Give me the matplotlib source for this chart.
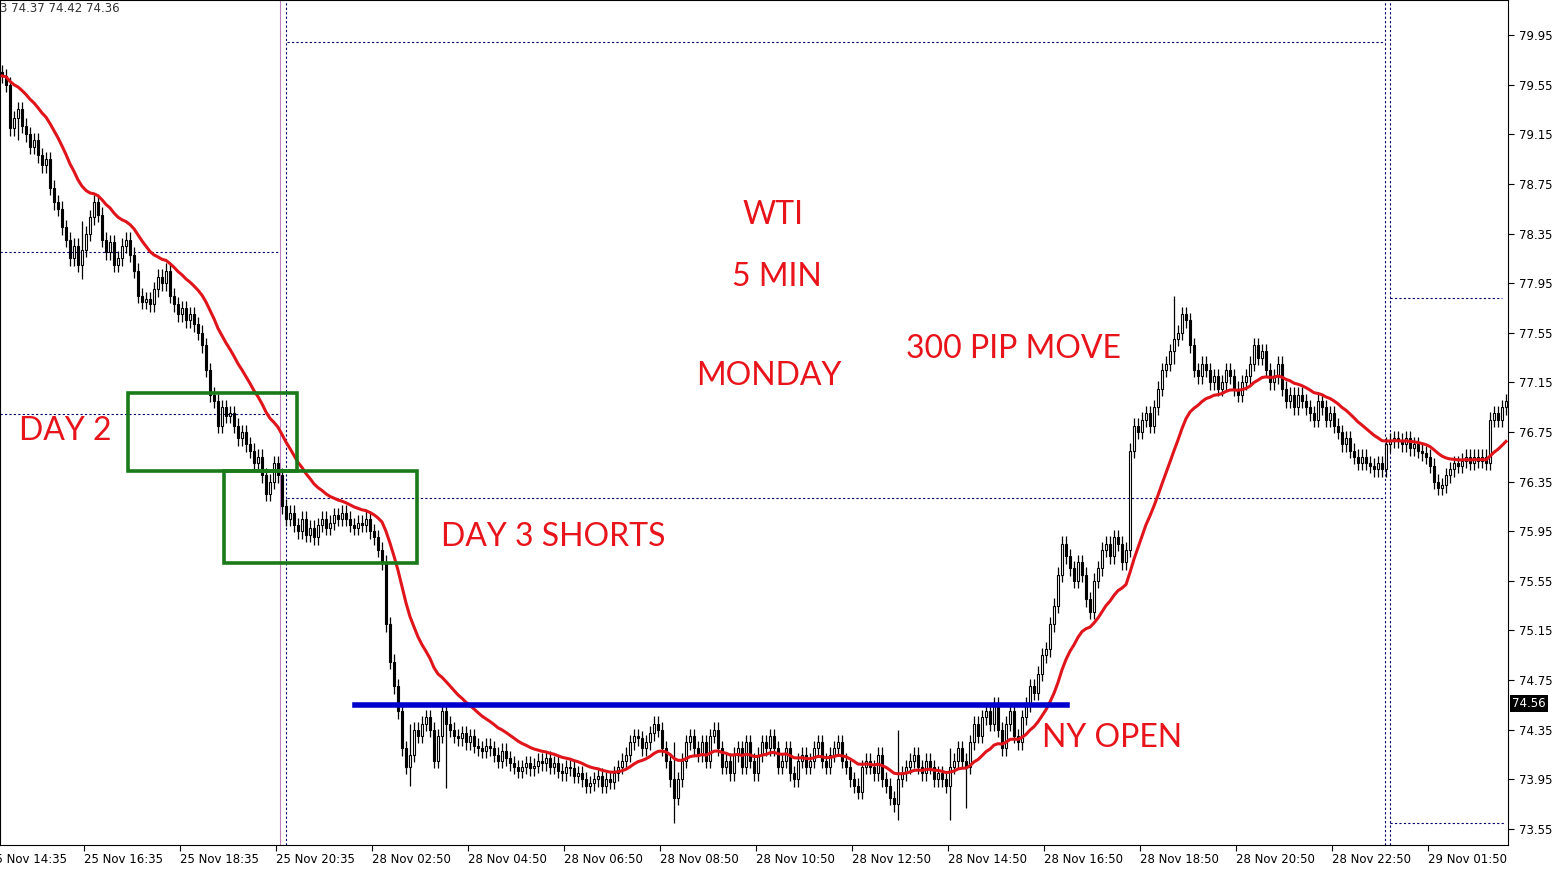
import matplotlib
matplotlib.use("Agg")
import matplotlib.pyplot as plt
import numpy as np
import pandas as pd
from matplotlib.patches import Rectangle

closes = [
79.62,79.55,79.20,79.28,79.35,79.22,79.15,79.05,79.10,78.98,78.90,78.95,78.72,78.60,78.55,78.40,78.30,78.15,78.25,78.10,78.22,78.35,78.48,78.60,
78.50,78.30,78.20,78.28,78.10,78.15,78.25,78.30,78.18,78.05,77.85,77.80,77.82,77.78,77.90,78.00,77.95,78.05,77.85,77.78,77.70,77.75,77.65,77.70,
77.62,77.55,77.45,77.25,77.05,77.00,76.80,76.95,76.88,76.90,76.80,76.70,76.75,76.65,76.60,76.50,76.55,76.40,76.25,76.35,76.50,76.40,76.15,76.05,
76.10,76.00,75.95,76.05,75.92,75.98,75.90,76.00,76.05,75.98,76.02,76.08,76.05,76.10,76.05,76.00,75.98,76.02,76.00,76.05,75.95,75.90,75.80,75.70,
75.20,74.90,74.70,74.50,74.20,74.05,74.15,74.35,74.30,74.40,74.45,74.35,74.10,74.30,74.50,74.40,74.35,74.30,74.28,74.32,74.25,74.30,74.22,74.20,
74.18,74.22,74.20,74.15,74.10,74.18,74.12,74.08,74.05,74.02,74.05,74.08,74.04,74.06,74.10,74.08,74.12,74.05,74.08,74.02,74.00,74.05,74.04,73.98,
74.00,73.95,73.90,73.92,73.95,73.98,73.90,73.95,73.93,74.00,74.05,74.10,74.15,74.25,74.30,74.28,74.20,74.25,74.32,74.40,74.35,74.20,74.10,73.95,
73.80,73.95,74.10,74.25,74.30,74.20,74.15,74.25,74.10,74.30,74.35,74.20,74.05,74.10,74.00,74.15,74.20,74.05,74.25,74.10,74.00,74.15,74.25,74.20,
74.30,74.20,74.05,74.10,74.20,74.00,73.95,74.10,74.15,74.05,74.10,74.20,74.25,74.10,74.05,74.15,74.20,74.25,74.10,74.05,73.95,73.90,73.85,74.05,
74.10,74.05,74.00,74.15,73.95,73.90,73.80,73.75,73.95,74.00,74.05,74.10,74.15,74.05,74.00,74.10,74.05,73.95,74.00,73.95,73.90,74.05,74.10,74.20,
74.10,74.05,74.25,74.40,74.30,74.45,74.50,74.40,74.55,74.35,74.20,74.40,74.50,74.30,74.25,74.45,74.55,74.70,74.65,74.80,74.95,75.00,75.20,75.35,
75.60,75.85,75.75,75.65,75.55,75.70,75.60,75.40,75.30,75.55,75.65,75.80,75.85,75.75,75.90,75.85,75.70,75.80,76.60,76.80,76.75,76.85,76.90,76.80,
76.95,77.10,77.25,77.30,77.40,77.50,77.55,77.70,77.65,77.45,77.25,77.20,77.30,77.25,77.15,77.20,77.10,77.15,77.25,77.20,77.10,77.05,77.15,77.20,
77.30,77.45,77.35,77.40,77.25,77.15,77.20,77.30,77.10,77.00,77.05,76.95,77.05,77.00,76.95,76.90,76.85,77.00,76.95,76.85,76.90,76.80,76.75,76.65,
76.70,76.60,76.55,76.50,76.55,76.50,76.48,76.45,76.50,76.45,76.65,76.68,76.70,76.68,76.65,76.70,76.62,76.65,76.60,76.58,76.55,76.48,76.35,76.30,
76.32,76.40,76.45,76.50,76.48,76.52,76.55,76.50,76.55,76.52,76.55,76.50,76.85,76.90,76.85,76.95,77.00]
first_open = 79.65
wick = 0.06
extra_wicks = {4: (79.40, 79.10), 20: (78.45, 77.98), 102: (74.40, 73.90), 111: (74.45, 73.88),
               168: (74.25, 73.60), 224: (74.35, 73.62), 237: (74.20, 73.62), 241: (74.10, 73.72),
               293: (77.85, 77.30)}

xtick_labels = ["25 Nov 14:35","25 Nov 16:35","25 Nov 18:35","25 Nov 20:35","28 Nov 02:50","28 Nov 04:50",
                "28 Nov 06:50","28 Nov 08:50","28 Nov 10:50","28 Nov 12:50","28 Nov 14:50","28 Nov 16:50",
                "28 Nov 18:50","28 Nov 20:50","28 Nov 22:50","29 Nov 01:50"]
ytick_vals = [79.95,79.55,79.15,78.75,78.35,77.95,77.55,77.15,76.75,76.35,75.95,75.55,75.15,74.75,74.35,73.95,73.55]
last_price = 74.56
ny_open_level = 74.55

c = np.array(closes)
o = np.concatenate([[first_open], c[:-1]])
h = np.maximum(o, c) + wick
l = np.minimum(o, c) - wick
for k, (hh, ll) in extra_wicks.items():
    h[k] = max(h[k], hh); l[k] = min(l[k], ll)
n = len(c)
xs = np.arange(n)
ma = pd.Series(c).ewm(span=21, adjust=False).mean().values

W, H = 1560, 873
fig = plt.figure(figsize=(15.6, 8.73), dpi=100)
ax = fig.add_axes([0, 28/H, 1508/W, 845/H])
ymax = 79.95 + 35/124
ymin = 73.55 - 16/124
px = lambda xp: xp/4 - 0.5
py = lambda yp: ymax - yp/124

for i in range(n):
    up = c[i] >= o[i]
    ax.vlines(xs[i], l[i], h[i], color='black', lw=0.9, zorder=2)
    bot = min(o[i], c[i]); ht = max(abs(c[i]-o[i]), 0.006)
    ax.add_patch(Rectangle((xs[i]-0.32, bot), 0.64, ht, facecolor='white' if up else 'black',
                           edgecolor='black', lw=0.8, zorder=3))
ax.plot(xs, ma, color='#e0141b', lw=2.2, zorder=4)

dk = '#000066'
for (x0, x1, yp) in [(0, 280, 252), (0, 280, 414), (287, 1385, 42), (287, 1385, 498), (1390, 1502, 298), (1390, 1505, 823)]:
    ax.plot([px(x0), px(x1)], [py(yp)]*2, color=dk, lw=0.8, ls=(0, (2, 2)), zorder=1)
for xp in [286, 1385, 1390]:
    ax.axvline(px(xp), color=dk, lw=0.8, ls=(0, (2, 2)), zorder=1)
ax.axvline(px(280), color='#c080c0', lw=0.8, zorder=1)

g = '#1a7a1a'
for (x0, y0, x1, y1) in [(128, 393, 297, 471), (224, 471, 417, 563)]:
    ax.add_patch(Rectangle((px(x0), py(y1)), (x1-x0)/4, (y1-y0)/124, fill=False, edgecolor=g, lw=2.6, zorder=5))
ax.plot([px(355), px(1067)], [ny_open_level]*2, color='#0000cc', lw=4, zorder=5)

red = '#e8141b'
for t, xp, yp in [("WTI", 773, 215), ("5 MIN", 777, 277), ("MONDAY", 769, 376), ("300 PIP MOVE", 1013, 349),
                  ("DAY 2", 65, 431), ("DAY 3 SHORTS", 553, 537), ("NY OPEN", 1112, 738)]:
    ax.text(px(xp), py(yp), t, color=red, fontsize=23, family='Lato', ha='center', va='center', zorder=6)
ax.text(-0.5, py(8), "3 74.37 74.42 74.36", fontsize=8.5, va='center', ha='left', color='#333333')

ax.set_xlim(-0.5, n - 0.5)
ax.set_ylim(ymin, ymax)
ax.yaxis.tick_right()
ax.set_yticks(ytick_vals)
ax.set_yticklabels([f"{v:.2f}" for v in ytick_vals], fontsize=8.5)
ax.tick_params(axis='y', length=4, pad=4)
xt = [px(-12 + 96*k) for k in range(1, len(xtick_labels))]
ax.set_xticks(xt)
ax.set_xticklabels(xtick_labels[1:], fontsize=8.5, ha='left')
ax.set_xlim(-0.5, n - 0.5)
ax.tick_params(axis='x', length=4, pad=2)
ax.text(px(-12), -8/845, xtick_labels[0], transform=ax.get_xaxis_transform(), fontsize=8.5,
        ha='left', va='top', clip_on=False)
ax.text(1.0 + 4/1508, last_price, f"{last_price:.2f}", transform=ax.get_yaxis_transform(), fontsize=8.5,
        color='white', va='center', ha='left', bbox=dict(facecolor='black', edgecolor='none', pad=1.5))
for s in ax.spines.values():
    s.set_linewidth(0.8)
fig.savefig("out.png", dpi=100)
